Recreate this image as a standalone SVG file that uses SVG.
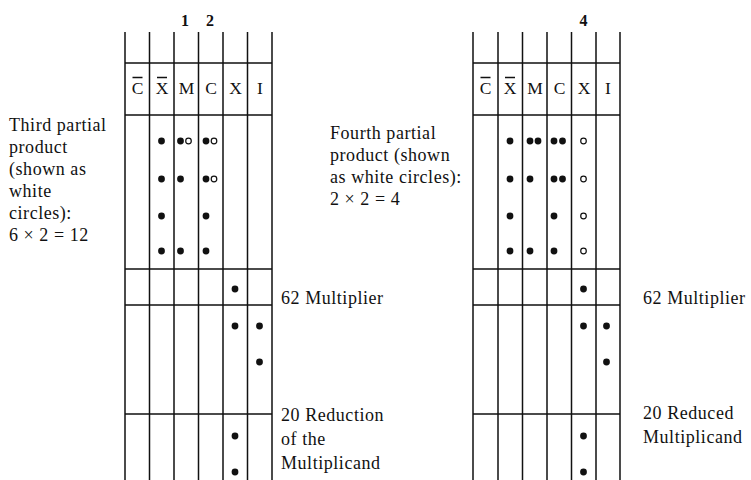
<svg xmlns="http://www.w3.org/2000/svg" width="751" height="480" viewBox="0 0 751 480">
<style>
.g{stroke:#111;stroke-width:1.5;fill:none}
.t{font-family:"Liberation Serif","Times New Roman",serif;font-size:18px;fill:#111;letter-spacing:0.55px}
.h{font-family:"Liberation Serif","Times New Roman",serif;font-size:17.5px;fill:#111;text-anchor:middle}
.n{font-family:"Liberation Serif","Times New Roman",serif;font-size:16px;fill:#111;text-anchor:middle;font-weight:bold}
.f{fill:#111}
.o{fill:#fff;stroke:#111;stroke-width:1.2}
</style>
<rect width="751" height="480" fill="#fff"/>

<g id="left-table">
  <g class="g">
    <path d="M125 32V480M149.5 32V480M174 32V480M198.5 32V480M223 32V480M247.5 32V480M272 32V480"/>
    <path d="M125 63H272M125 115H272M125 269H272M125 305H272M125 414H272"/>
    <path d="M132.5 77.5H142.5M157 77.5H167"/>
  </g>
  <text class="n" x="185" y="26">1</text>
  <text class="n" x="210" y="26">2</text>
  <text class="h" x="137.5" y="94">C</text>
  <text class="h" x="162" y="94">X</text>
  <text class="h" x="186.5" y="94">M</text>
  <text class="h" x="211" y="94">C</text>
  <text class="h" x="235.5" y="94">X</text>
  <text class="h" x="260" y="94">I</text>
  <g class="f">
    <circle cx="161.5" cy="141" r="3.4"/><circle cx="161.5" cy="179" r="3.4"/><circle cx="161.5" cy="216" r="3.4"/><circle cx="161.5" cy="251" r="3.4"/>
    <circle cx="180.5" cy="141" r="3.4"/><circle cx="180.5" cy="179" r="3.4"/><circle cx="180.5" cy="251" r="3.4"/>
    <circle cx="206" cy="141" r="3.4"/><circle cx="206" cy="179" r="3.4"/><circle cx="206" cy="216" r="3.4"/><circle cx="206" cy="251" r="3.4"/>
    <circle cx="235" cy="289" r="3.4"/>
    <circle cx="235" cy="326" r="3.4"/><circle cx="259.5" cy="326" r="3.4"/><circle cx="259.5" cy="362" r="3.4"/>
    <circle cx="235" cy="436" r="3.4"/><circle cx="235" cy="472" r="3.4"/>
  </g>
  <circle class="o" cx="188.5" cy="141" r="2.8"/>
  <circle class="o" cx="214" cy="141" r="2.8"/>
  <circle class="o" cx="214" cy="179" r="2.8"/>
</g>

<g id="right-table">
  <g class="g">
    <path d="M473 32V480M498 32V480M522.5 32V480M547 32V480M571.5 32V480M596 32V480M620 32V480"/>
    <path d="M473 63H620M473 115H620M473 269H620M473 305H620M473 414H620"/>
    <path d="M480.5 77.5H490.5M505 77.5H515"/>
  </g>
  <text class="n" x="583.5" y="26">4</text>
  <text class="h" x="485.5" y="94">C</text>
  <text class="h" x="510" y="94">X</text>
  <text class="h" x="535" y="94">M</text>
  <text class="h" x="559.5" y="94">C</text>
  <text class="h" x="584" y="94">X</text>
  <text class="h" x="608" y="94">I</text>
  <g class="f">
    <circle cx="510" cy="141" r="3.4"/><circle cx="510" cy="179" r="3.4"/><circle cx="510" cy="216" r="3.4"/><circle cx="510" cy="251" r="3.4"/>
    <circle cx="530" cy="141" r="3.4"/><circle cx="538" cy="141" r="3.4"/><circle cx="530" cy="179" r="3.4"/><circle cx="530" cy="251" r="3.4"/>
    <circle cx="554" cy="141" r="3.4"/><circle cx="562.5" cy="141" r="3.4"/><circle cx="554" cy="179" r="3.4"/><circle cx="562.5" cy="179" r="3.4"/><circle cx="554" cy="216" r="3.4"/><circle cx="554" cy="251" r="3.4"/>
    <circle cx="583.5" cy="289" r="3.4"/>
    <circle cx="583.5" cy="326" r="3.4"/><circle cx="606.5" cy="326" r="3.4"/><circle cx="606.5" cy="362" r="3.4"/>
    <circle cx="583.5" cy="436" r="3.4"/><circle cx="583.5" cy="472" r="3.4"/>
  </g>
  <g>
    <circle class="o" cx="583.5" cy="141" r="2.8"/><circle class="o" cx="583.5" cy="179" r="2.8"/><circle class="o" cx="583.5" cy="216" r="2.8"/><circle class="o" cx="583.5" cy="251" r="2.8"/>
  </g>
</g>

<g id="label-third">
  <text class="t" x="9" y="131">Third partial</text>
  <text class="t" x="9" y="153">product</text>
  <text class="t" x="9" y="175">(shown as</text>
  <text class="t" x="9" y="197">white</text>
  <text class="t" x="9" y="219">circles):</text>
  <text class="t" x="9" y="241">6 × 2 = 12</text>
</g>
<g id="label-fourth">
  <text class="t" x="330" y="139">Fourth partial</text>
  <text class="t" x="330" y="161">product (shown</text>
  <text class="t" x="330" y="183">as white circles):</text>
  <text class="t" x="330" y="205">2 × 2 = 4</text>
</g>
<g id="label-left-bottom">
  <text class="t" x="281" y="304">62 Multiplier</text>
  <text class="t" x="281" y="421">20 Reduction</text>
  <text class="t" x="281" y="445">of the</text>
  <text class="t" x="281" y="469">Multiplicand</text>
</g>
<g id="label-right-bottom">
  <text class="t" x="643" y="304">62 Multiplier</text>
  <text class="t" x="643" y="419">20 Reduced</text>
  <text class="t" x="643" y="443">Multiplicand</text>
</g>
<g id="connectors"/>
</svg>
